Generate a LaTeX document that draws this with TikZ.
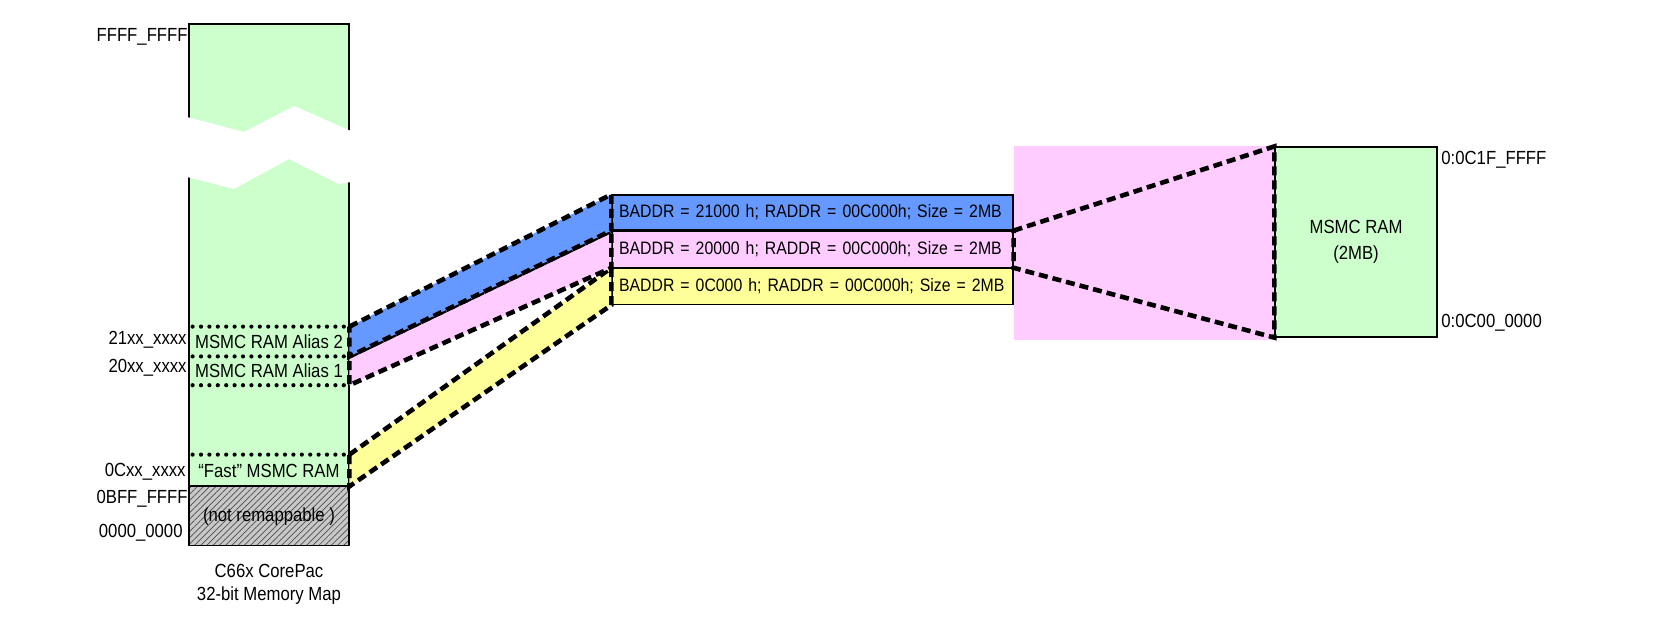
\documentclass[tikz,border=0pt]{standalone}
\usepackage{fontspec}
\setmainfont{Liberation Sans}[FakeStretch=0.88]
\usepackage{tikz}
\usetikzlibrary{backgrounds,patterns.meta,positioning}
\definecolor{msmcgreen}{HTML}{CCFFCC}
\definecolor{msmcblue}{HTML}{6699FF}
\definecolor{msmcpink}{HTML}{FFCCFF}
\definecolor{msmcyellow}{HTML}{FFFF99}
\definecolor{msmcgrey}{HTML}{C8C8C8}
\tikzset{%
  msmcmap/.style={%
    draw=black,
    line width=0.6pt,
    fill=msmcgreen,
    inner sep=0pt,
    minimum width=80pt
  },
  msmcregion/.style={%
    inner sep=0pt,
    minimum width=80pt
  },
  msmcrow/.style={%
    draw=black,
    line width=0.6pt,
    minimum width=200.5pt,
    text width=193.5pt,
    inner xsep=3.5pt,
    inner ysep=0pt,
    align=left,
    font=\fontsize{9}{11}\selectfont
  },
  msmcaddr/.style={inner sep=0pt},
  msmcdots/.style={line width=2.1pt,line cap=round,dash pattern=on 0pt off 4.2pt},
  msmcband/.style={line width=2.3pt,dash pattern=on 4.5pt off 2.5pt}
}
\begin{document}
\begin{tikzpicture}[x=0.5pt,y=-0.5pt,font=\fontsize{9.5}{11.5}\selectfont]
    \useasboundingbox (0,0) rectangle (1668,634);

    % memory map column
    \node[msmcmap,minimum height=231pt] (map) at (269,255) {};
    \node[msmcregion,minimum height=14.5pt] (alias2) at (269,341.5) {MSMC RAM Alias 2};
    \node[msmcregion,minimum height=14pt,below=0pt of alias2] (alias1) {MSMC RAM Alias 1};
    \node[msmcregion,minimum height=15.5pt] (fast) at (269,470.5) {“Fast” MSMC RAM};
    \node[msmcmap,minimum height=29.5pt,preaction={fill=msmcgrey},pattern={Lines[angle=45,distance=2.2pt,line width=0.35pt]},pattern color=black!70,below=0pt of fast] (norem) {(not remappable )};
    \draw[msmcdots] ([xshift=2pt]alias2.north west) -- (alias2.north east);
    \draw[msmcdots] ([xshift=2pt]alias1.north west) -- (alias1.north east);
    \draw[msmcdots] ([xshift=2pt]alias1.south west) -- (alias1.south east);
    \draw[msmcdots] ([xshift=2pt]fast.north west) -- (fast.north east);
    \fill[white] (187,117) -- (244,132) -- (294,106) -- (351,131) -- (351,182) -- (339,184) -- (289,159) -- (234,189) -- (187,177) -- cycle;

    \node[msmcaddr,anchor=east] (addrtop) at (188,37) {FFFF\_FFFF};
    \node[msmcaddr,anchor=east] (addralias2) at (187,340) {21xx\_xxxx};
    \node[msmcaddr,anchor=east] (addralias1) at (187,368) {20xx\_xxxx};
    \node[msmcaddr,anchor=east] (addrfast) at (186,472) {0Cxx\_xxxx};
    \node[msmcaddr,anchor=east] (addrnorem) at (188,499) {0BFF\_FFFF};
    \node[msmcaddr,anchor=east] (addrzero) at (183,533) {0000\_0000};
    \node[msmcaddr,align=center,below=9pt of norem] (caption) {C66x CorePac\\32-bit Memory Map};

    % remap table and MSMC RAM
    \node[msmcrow,minimum height=17.5pt,fill=msmcblue] (row2) at (812.5,212.5) {BADDR = 21000 h; RADDR = 00C000h; Size = 2MB};
    \node[msmcrow,minimum height=18pt,fill=msmcpink,below=0pt of row2] (row1) {BADDR = 20000 h; RADDR = 00C000h; Size = 2MB};
    \node[msmcrow,minimum height=18pt,fill=msmcyellow,below=0pt of row1] (row0) {BADDR = 0C000 h; RADDR = 00C000h; Size = 2MB};
    \node[draw=black,line width=0.6pt,fill=msmcgreen,minimum width=81pt,minimum height=95pt,align=center,font=\fontsize{9.5}{13}\selectfont] (msmc) at (1356,242) {MSMC RAM\\(2MB)};
    \node[msmcaddr,anchor=west] (addrhigh) at (1441,160) {0:0C1F\_FFFF};
    \node[msmcaddr,anchor=west] (addrlow) at (1441,323) {0:0C00\_0000};

    \begin{scope}[on background layer]
      \fill[msmcpink] (row1.north east |- msmc.north) rectangle ([yshift=-1pt]msmc.south west);
    \end{scope}

    \draw[msmcband,fill=msmcyellow] (fast.north east) -- (row0.north west) -- (row0.south west) -- (fast.south east) -- cycle;
    \draw[msmcband,fill=msmcpink] (alias1.north east) -- (row1.north west) -- (row1.south west) -- (alias1.south east) -- cycle;
    \draw[msmcband,fill=msmcblue] (alias2.north east) -- (row2.north west) -- (row2.south west) -- (alias2.south east) -- cycle;
    \draw[msmcband] (row1.north east) -- (msmc.north west) -- (msmc.south west) -- (row1.south east) -- cycle;
  \end{tikzpicture}
\end{document}
